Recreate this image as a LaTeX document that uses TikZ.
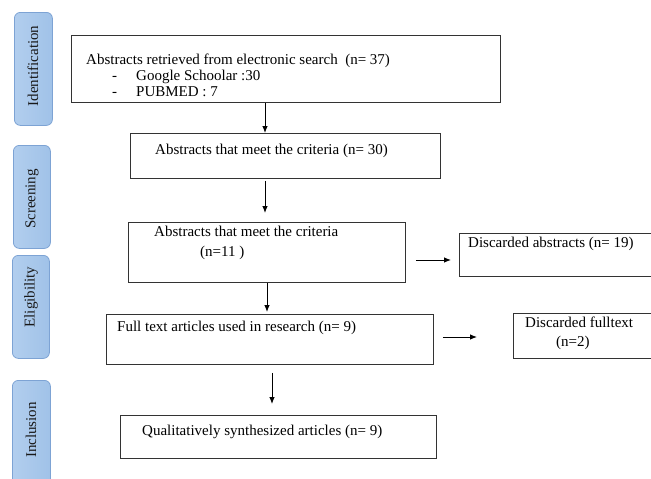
\documentclass[tikz,border=0pt]{standalone}
\usepackage{fontspec}
\setmainfont{Liberation Serif}
\usetikzlibrary{arrows.meta}
\definecolor{sidefill}{RGB}{160,194,232}
\definecolor{sidefilltop}{RGB}{178,206,238}
\definecolor{sidedraw}{RGB}{125,163,212}
\begin{document}
\begin{tikzpicture}[x=1pt,y=-1pt,
  box/.style={draw=black!80,line width=0.8pt,anchor=north west,inner sep=0pt},
  side/.style={draw=sidedraw,left color=sidefilltop,right color=sidefill,rounded corners=6pt,line width=0.8pt,anchor=north west,inner sep=0pt},
  sidetxt/.style={rotate=90,inner sep=0pt,font=\fontsize{15}{17}\selectfont,text=black!90},
  txt/.style={anchor=base west,inner sep=0pt,font=\fontsize{15}{17}\selectfont},
  arr/.style={-{Latex[length=7pt,width=5.5pt]},line width=0.9pt}]
\useasboundingbox (0,0) rectangle (651,479);
% side labels
\node[side,minimum width=38pt,minimum height=113pt] (s1) at (14,12) {};
\node[sidetxt] (l1) at (33,66) {Identification};
\node[side,minimum width=37pt,minimum height=103pt] (s2) at (13,145) {};
\node[sidetxt] (l2) at (32,199) {Screening};
\node[side,minimum width=37pt,minimum height=103pt] (s3) at (12,255) {};
\node[sidetxt] (l3) at (31,297) {Eligibility};
\node[side,minimum width=38pt,minimum height=110pt] (s4) at (12,380) {};
\node[sidetxt] (l4) at (31,430) {Inclusion};
% main boxes
\node[box,minimum width=429pt,minimum height=67pt] (b1) at (71,35) {};
\node[txt] (t1) at (86,64) {Abstracts retrieved from electronic search\ \ (n= 37)};
\node[txt] (t1a) at (112,80) {-};
\node[txt] (t1b) at (136,80) {Google Schoolar :30};
\node[txt] (t1c) at (112,96) {-};
\node[txt] (t1d) at (136,96) {PUBMED : 7};
\node[box,minimum width=310pt,minimum height=45pt] (b2) at (130,133) {};
\node[txt] (t2) at (155,154) {Abstracts that meet the criteria (n= 30)};
\node[box,minimum width=277pt,minimum height=60pt] (b3) at (128,222) {};
\node[txt] (t3) at (154,236) {Abstracts that meet the criteria};
\node[txt] (t3b) at (200,256) {(n=11 )};
\node[box,minimum width=193pt,minimum height=43pt] (d1) at (459,233) {};
\node[txt] (td1) at (468,247) {Discarded abstracts (n= 19)};
\node[box,minimum width=327pt,minimum height=50pt] (b4) at (106,314) {};
\node[txt] (t4) at (117,331) {Full text articles used in research (n= 9)};
\node[box,minimum width=139pt,minimum height=45pt] (d2) at (513,313) {};
\node[txt] (td2) at (525,327) {Discarded fulltext};
\node[txt] (td2b) at (556,346) {(n=2)};
\node[box,minimum width=316pt,minimum height=43pt] (b5) at (120,415) {};
\node[txt] (t5) at (142,435) {Qualitatively synthesized articles (n= 9)};
% arrows
\draw[arr] (b1.south -| 265,0) -- (b2.north -| 265,0);
\draw[arr,shorten <=2pt] (b2.south -| 265,0) -- ([yshift=9pt]b3.north -| 265,0);
\draw[arr] (b3.south -| 267,0) -- ([yshift=2pt]b4.north -| 267,0);
\draw[arr,shorten <=8pt] (b4.south -| 272,0) -- ([yshift=11pt]b5.north -| 272,0);
\draw[arr] ([xshift=10pt]b3.east |- 0,260) -- ([xshift=-8pt]d1.west |- 0,260);
\draw[arr] ([xshift=9pt]b4.east |- 0,337) -- ([xshift=-36pt]d2.west |- 0,337);
\end{tikzpicture}
\end{document}
